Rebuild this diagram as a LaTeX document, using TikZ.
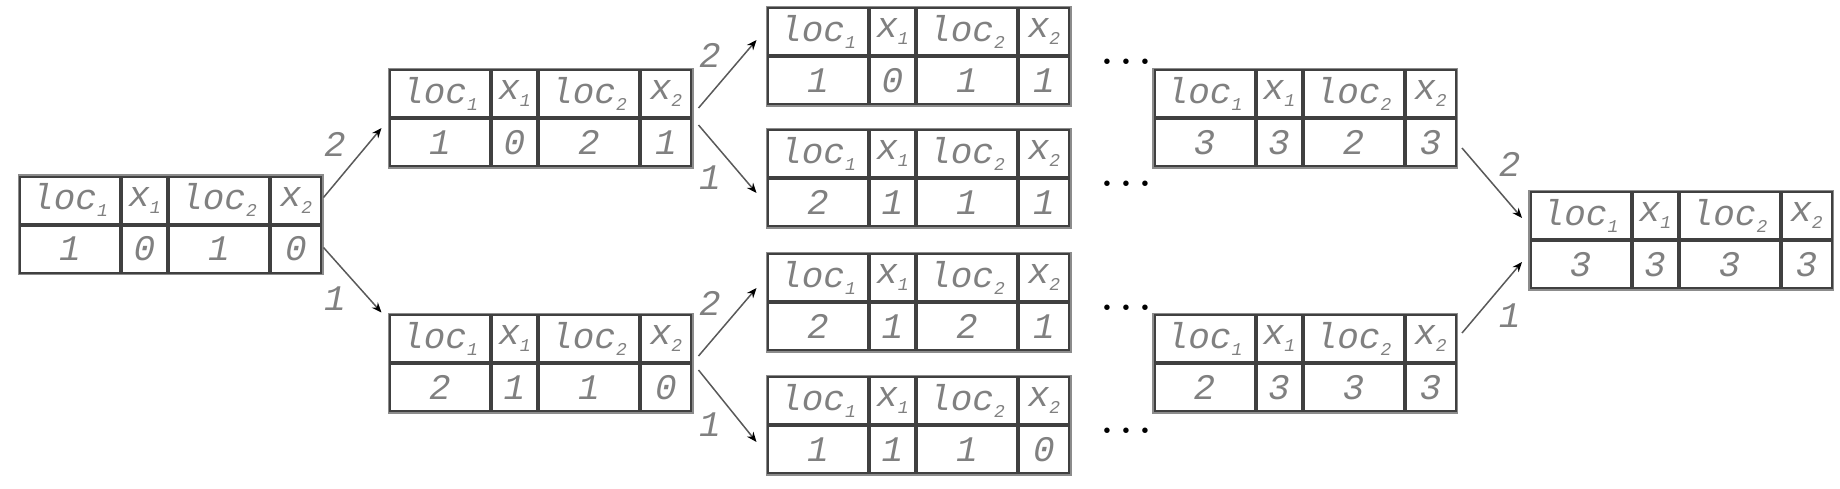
\documentclass[tikz,border=0pt]{standalone}
\usepackage{fontspec}
\setmonofont{Liberation Mono}
\usetikzlibrary{matrix,arrows.meta,positioning}

\newcommand\cellfont{\fontsize{18}{20}\selectfont\ttfamily\itshape}
\newcommand\sub[1]{\raisebox{-3.5pt}{\fontsize{9}{9}\selectfont #1}}

\tikzset{
    state/.style={matrix of nodes, draw=black!45, line width=1.5pt, inner sep=0pt,
        column sep=0pt, row sep=0pt,
        nodes={draw=black!75, line width=1pt, minimum height=23.5pt, inner sep=0pt,
            anchor=center, text=black!50, font=\cellfont},
        column 1/.style={nodes={minimum width=50pt}},
        column 2/.style={nodes={minimum width=22.5pt}},
        column 3/.style={nodes={minimum width=50pt}},
        column 4/.style={nodes={minimum width=25pt}}},
    move/.style={line width=0.75pt, draw=black!65, -{Stealth[length=5pt,width=4pt,black]}},
    lbl/.style={font=\cellfont, text=black!50, inner sep=3pt},
    more/.style={inner sep=0pt, yshift=-3pt, font=\fontsize{19}{19}\selectfont\bfseries}
}

\begin{document}
\begin{tikzpicture}
    \useasboundingbox (0pt, 0pt) rectangle (920pt, -244pt);
    % states
    \matrix (t1) [state] at (85.25pt, -112.25pt) {
        loc\sub{1} & x\sub{1} & loc\sub{2} & x\sub{2} \\
        1 & 0 & 1 & 0 \\
    };
    \matrix (t2) [state] at (270.25pt, -59pt) {
        loc\sub{1} & x\sub{1} & loc\sub{2} & x\sub{2} \\
        1 & 0 & 2 & 1 \\
    };
    \matrix (t3) [state] at (270.25pt, -181.5pt) {
        loc\sub{1} & x\sub{1} & loc\sub{2} & x\sub{2} \\
        2 & 1 & 1 & 0 \\
    };
    \matrix (t4) [state] at (459.25pt, -28pt) {
        loc\sub{1} & x\sub{1} & loc\sub{2} & x\sub{2} \\
        1 & 0 & 1 & 1 \\
    };
    \matrix (t5) [state] at (459.25pt, -89pt) {
        loc\sub{1} & x\sub{1} & loc\sub{2} & x\sub{2} \\
        2 & 1 & 1 & 1 \\
    };
    \matrix (t6) [state] at (459.25pt, -151pt) {
        loc\sub{1} & x\sub{1} & loc\sub{2} & x\sub{2} \\
        2 & 1 & 2 & 1 \\
    };
    \matrix (t7) [state] at (459.25pt, -212.5pt) {
        loc\sub{1} & x\sub{1} & loc\sub{2} & x\sub{2} \\
        1 & 1 & 1 & 0 \\
    };
    \matrix (t8) [state] at (652.5pt, -59pt) {
        loc\sub{1} & x\sub{1} & loc\sub{2} & x\sub{2} \\
        3 & 3 & 2 & 3 \\
    };
    \matrix (t9) [state] at (652.5pt, -181.5pt) {
        loc\sub{1} & x\sub{1} & loc\sub{2} & x\sub{2} \\
        2 & 3 & 3 & 3 \\
    };
    \matrix (t10) [state] at (840.5pt, -120pt) {
        loc\sub{1} & x\sub{1} & loc\sub{2} & x\sub{2} \\
        3 & 3 & 3 & 3 \\
    };
    % skipped steps
    \node (d4) [more, right=15pt of t4] {.\kern3.5pt.\kern3.5pt.};
    \node (d5) [more, right=15pt of t5] {.\kern3.5pt.\kern3.5pt.};
    \node (d6) [more, right=15pt of t6] {.\kern3.5pt.\kern3.5pt.};
    \node (d7) [more, right=15pt of t7] {.\kern3.5pt.\kern3.5pt.};
    % moves
    \draw [move] ([yshift=13.5pt]t1.east) -- node [lbl, above left] {2} ([xshift=-3pt, yshift=-5pt]t2.west);
    \draw [move] ([yshift=-11.5pt]t1.east) -- node [lbl, below left] {1} ([xshift=-3pt]t3.north west);
    \draw [move] ([xshift=2.5pt, yshift=5pt]t2.east) -- node [lbl, above left] {2} ([xshift=-4.5pt, yshift=8pt]t4.west);
    \draw [move] ([xshift=2.5pt, yshift=-3.5pt]t2.east) -- node [lbl, below left] {1} ([xshift=-4.5pt, yshift=-7.5pt]t5.west);
    \draw [move] ([xshift=2.5pt, yshift=3.5pt]t3.east) -- node [lbl, above left] {2} ([xshift=-4.5pt, yshift=7pt]t6.west);
    \draw [move] ([xshift=2.5pt, yshift=-3.5pt]t3.east) -- node [lbl, below left] {1} ([xshift=-4.5pt, yshift=-8.5pt]t7.west);
    \draw [move] ([xshift=2pt, yshift=-15pt]t8.east) -- node [lbl, above right] {2} ([xshift=-3pt, yshift=11pt]t10.west);
    \draw [move] ([xshift=2pt, yshift=15pt]t9.east) -- node [lbl, below right] {1} ([xshift=-3pt, yshift=-11pt]t10.west);
\end{tikzpicture}
\end{document}
